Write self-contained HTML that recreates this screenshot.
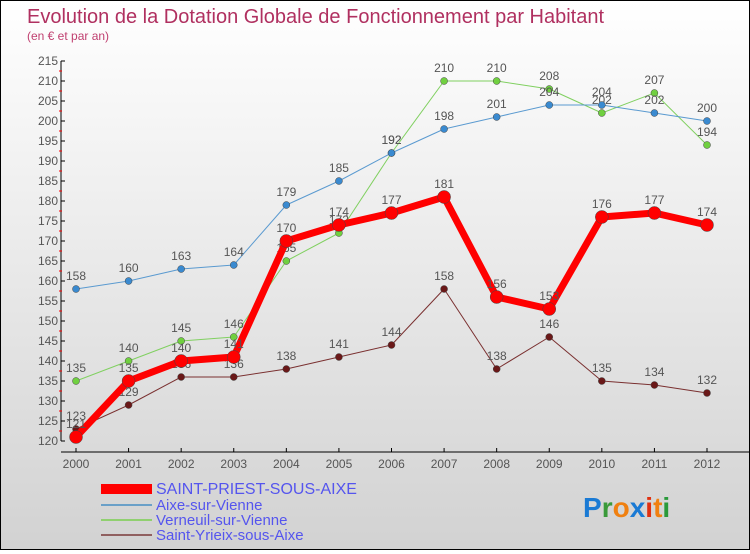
<!DOCTYPE html>
<html><head><meta charset="utf-8"><style>
html,body{margin:0;padding:0}
body{width:750px;height:550px;overflow:hidden;font-family:"Liberation Sans","DejaVu Sans",sans-serif}
#wrap{position:relative;width:748px;height:548px;border:1px solid #000;background:linear-gradient(#fff,#d2d2d2)}
</style></head><body>
<div id="wrap">
<svg id="chart" width="748" height="548">
<text x="26" y="22" font-size="20" fill="#b03060">Evolution de la Dotation Globale de Fonctionnement par Habitant</text>
<text x="26" y="39" font-size="12" fill="#c04070">(en € et par an)</text>
<g id="axes"></g><g id="series"></g><g id="legend"></g>
<text x="582" y="516" font-size="28" font-weight="bold"><tspan fill="#1a7ad4">P</tspan><tspan fill="#3a9a3a">r</tspan><tspan fill="#f08010">o</tspan><tspan fill="#1a7ad4">x</tspan><tspan fill="#e03010">i</tspan><tspan fill="#f08010">t</tspan><tspan fill="#2a9a3a">i</tspan></text>
</svg>
</div>
<script>
const years=[2000,2001,2002,2003,2004,2005,2006,2007,2008,2009,2010,2011,2012];
const yTicks=[120,125,130,135,140,145,150,155,160,165,170,175,180,185,190,195,200,205,210,215];
const saintPriest=[121,135,140,141,170,174,177,181,156,153,176,177,174];
const aixe=[158,160,163,164,179,185,192,198,201,204,204,202,200];
const verneuil=[135,140,145,146,165,172,192,210,210,208,202,207,194];
const yrieix=[123,129,136,136,138,141,144,158,138,146,135,134,132];
const seriesNames=["SAINT-PRIEST-SOUS-AIXE","Aixe-sur-Vienne","Verneuil-sur-Vienne","Saint-Yrieix-sous-Aixe"];
const NS="http://www.w3.org/2000/svg";
const xS=i=>75+i*(631/12);
const yS=v=>440-(v-120)*4;
function mk(tag,attrs,parent){const e=document.createElementNS(NS,tag);for(const k in attrs)e.setAttribute(k,attrs[k]);parent.appendChild(e);return e;}
const ax=document.getElementById('axes');
let l=mk('line',{x1:60,y1:yS(215),x2:60,y2:yS(120),stroke:'#000'},ax);


l=mk('line',{x1:60,y1:451,x2:748,y2:451,stroke:'#000'},ax);


yTicks.forEach(v=>{
 mk('line',{x1:60,y1:yS(v),x2:64,y2:yS(v),stroke:'#000'},ax);
 if(v<215) mk('line',{x1:58,y1:yS(v+2.5),x2:61,y2:yS(v+2.5),stroke:'#f00'},ax);
 const t=mk('text',{x:57,y:yS(v)+4,'text-anchor':'end','font-size':12,fill:'#555'},ax);t.textContent=v;
 
 
});
years.forEach((y,i)=>{
 mk('line',{x1:xS(i),y1:447,x2:xS(i),y2:451,stroke:'#000'},ax);
 const t=mk('text',{x:xS(i),y:467,'text-anchor':'middle','font-size':12,fill:'#555'},ax);t.textContent=y;
 
 
});
const sg=document.getElementById('series');
function draw(data,color,dot,w,r,name){
 const g=mk('g',{},sg);
 
 
 mk('polyline',{points:data.map((v,i)=>xS(i)+','+yS(v)).join(' '),fill:'none',stroke:color,'stroke-width':w,'stroke-linejoin':'round'},g);
 data.forEach((v,i)=>{
  const c=mk('circle',{cx:xS(i),cy:yS(v),r:r,fill:dot,stroke:'#444','stroke-width':0.5},g);
  
  
  const t=mk('text',{x:xS(i),y:yS(v)-9,'text-anchor':'middle','font-size':12,fill:'#555'},g);t.textContent=v;
  
  
 });
}
draw(yrieix,'#7a3030','#6a1818',1,3.5,'series-saint-yrieix');
draw(verneuil,'#80d060','#70d040',1,3.5,'series-verneuil');
draw(aixe,'#5a9ad0','#3a8ad0',1,3.5,'series-aixe');
draw(saintPriest,'#f00','#f00',7,6.5,'series-saint-priest');
const lg=document.getElementById('legend');
const lc=[['#f00',10],['#6aa0c8',2],['#90d070',2],['#906060',2]];
seriesNames.forEach((n,i)=>{
 const y=[493,509,524,539][i];
 const g=mk('g',{},lg);
 
 
 mk('line',{x1:100,y1:y-5,x2:151,y2:y-5,stroke:lc[i][0],'stroke-width':lc[i][1]},g);
 const t=mk('text',{x:155,y:y,'font-size':i==0?16:15,fill:'#5555ee'},g);t.textContent=n;
});
</script>
</body></html>
